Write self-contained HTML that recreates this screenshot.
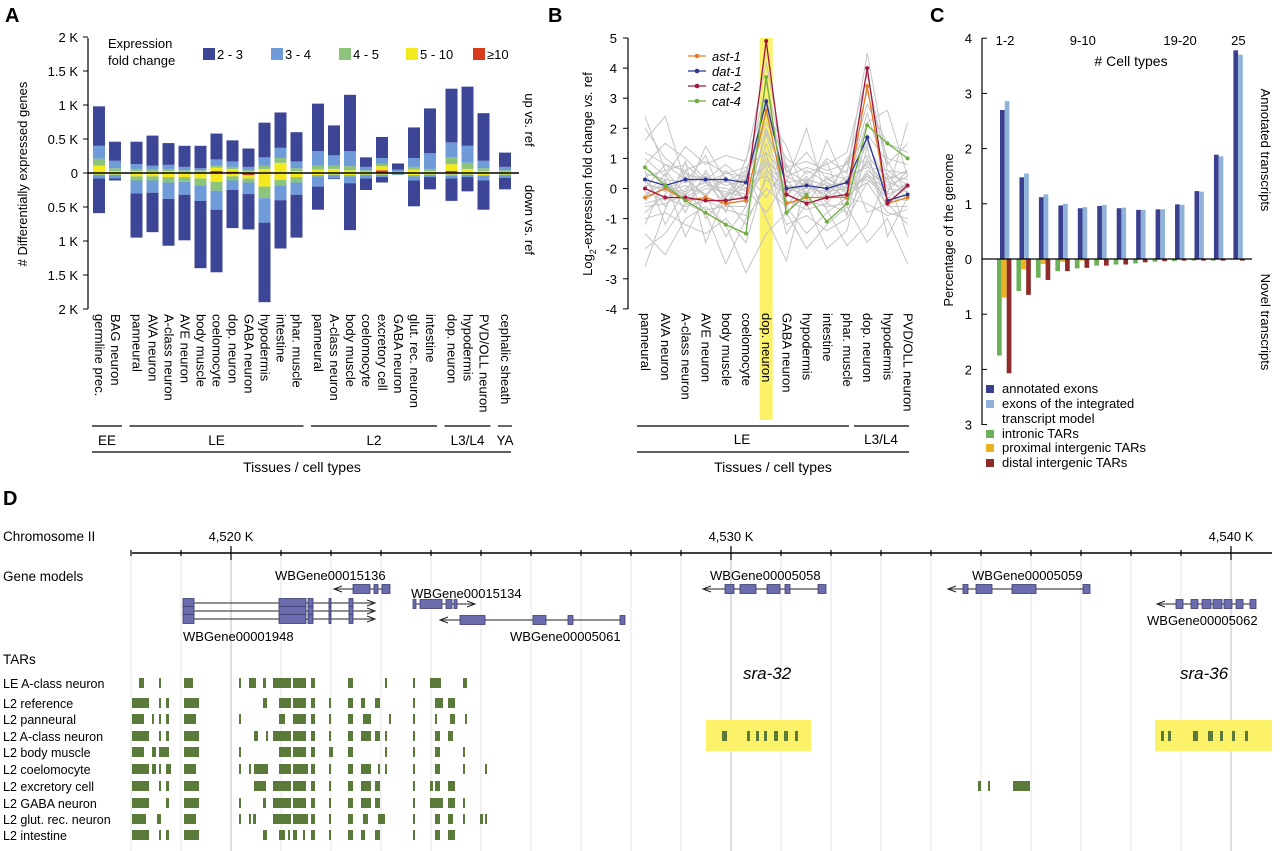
<!DOCTYPE html>
<html><head><meta charset="utf-8"><style>
html,body{margin:0;padding:0;background:#fff}
svg{display:block;font-family:"Liberation Sans",Arial,sans-serif}
</style></head><body>
<svg id="fig" width="1280" height="851" viewBox="0 0 1280 851" xmlns="http://www.w3.org/2000/svg">
<g id="pA"></g>
<g id="pB"></g>
<g id="pC"></g>
<g id="pD"></g>
</svg>
<script>
// ---------- Panel A data ----------
const aCats = ["germline prec.","BAG neuron","panneural","AVA neuron","A-class neuron","AVE neuron","body muscle","coelomocyte","dop. neuron","GABA neuron","hypodermis","intestine","phar. muscle","panneural","A-class neuron","body muscle","coelomocyte","excretory cell","GABA neuron","glut. rec. neuron","intestine","dop. neuron","hypodermis","PVD/OLL neuron","cephalic sheath"];
const aGroup = [0,0,1,1,1,1,1,1,1,1,1,1,1,2,2,2,2,2,2,2,2,3,3,3,4];
const aGroupNames = ["EE","LE","L2","L3/L4","YA"];
const upTotal = [0.98,0.46,0.46,0.55,0.44,0.40,0.40,0.58,0.48,0.36,0.74,0.89,0.60,1.02,0.70,1.15,0.23,0.53,0.14,0.67,0.95,1.24,1.27,0.88,0.30];
const upLB = [.19,.11,.07,.06,.06,.05,.03,.09,.08,.05,.12,.15,.10,.21,.15,.22,.05,.08,.03,.13,.23,.22,.25,.11,.05];
const upG  = [.10,.04,.03,.03,.03,.02,.02,.03,.03,.02,.05,.07,.04,.06,.05,.06,.02,.04,.01,.04,.03,.10,.09,.04,.02];
const upY  = [.11,.03,.03,.02,.03,.02,.02,.05,.04,.02,.05,.15,.03,.05,.06,.04,.02,.06,.01,.05,.03,.10,.06,.03,.02];
const upR  = [0,0,0,0,0,0,0,.03,.02,0,.01,0,0,0,0,0,0,.04,0,0,0,.03,0,0,0];
const downTotal = [0.59,0.11,0.95,0.87,1.07,0.99,1.40,1.46,0.81,0.83,1.90,1.11,0.95,0.54,0.09,0.84,0.25,0.14,0.03,0.49,0.24,0.41,0.27,0.54,0.24];
const downLB = [.05,.05,.19,.18,.24,.19,.23,.28,.14,.17,.36,.22,.18,.15,.05,.10,.05,.03,.01,.06,.03,.04,.03,.07,.04];
const downG  = [.01,.01,.06,.06,.08,.07,.10,.13,.06,.06,.17,.08,.08,.02,.01,.02,.01,.01,.01,.02,.01,.02,.01,.01,.01];
const downY  = [.02,.02,.05,.05,.06,.06,.08,.13,.05,.05,.20,.10,.06,.03,.02,.03,.02,.02,.01,.03,.02,.02,.02,.03,.02];
const downR  = [0,0,0,0,0,0,0,0,0,.03,0,0,0,0,0,0,0,0,0,0,0,0,0,0,0];
const aTicks = ["2 K","1.5 K","1 K","0.5 K","0","0.5 K","1 K","1.5 K","2 K"];
const aTickVals = [2,1.5,1,0.5,0,-0.5,-1,-1.5,-2];
const foldLabels = ["2 - 3","3 - 4","4 - 5","5 - 10","≥10"];

// ---------- Panel B data ----------
const bCats = ["panneural","AVA neuron","A-class neuron","AVE neuron","body muscle","coelomocyte","dop. neuron","GABA neuron","hypodermis","intestine","phar. muscle","dop. neuron","hypodermis","PVD/OLL neuron"];
const bTicks = [5,4,3,2,1,0,-1,-2,-3,-4];
const ast1 = [-0.3,0.0,-0.4,-0.3,-0.5,-0.4,2.6,-0.5,-0.3,-0.3,-0.3,3.4,-0.5,-0.3];
const dat1 = [0.3,0.1,0.3,0.3,0.3,0.2,2.9,0.0,0.1,0.0,0.2,1.7,-0.4,-0.2];
const cat2 = [0.0,-0.3,-0.3,-0.4,-0.4,-0.3,4.9,-0.2,-0.5,-0.3,-0.2,4.0,-0.5,0.1];
const cat4 = [0.7,0.1,-0.4,-0.8,-1.2,-1.5,3.7,-0.8,-0.2,-1.1,-0.5,2.1,1.5,1.0];
const grayBg = [
[0.5,0.3,0.2,0.4,0.1,0.3,2.0,0.2,0.3,0.1,0.2,2.5,0.4,0.3],
[-0.5,-0.3,-0.6,-0.4,-0.7,-0.9,1.5,-0.5,-0.4,-0.6,-0.5,1.0,-0.3,-0.4],
[1.2,0.8,0.6,0.9,0.5,0.4,3.5,0.7,0.9,0.6,0.8,3.2,1.0,0.8],
[-1.0,-0.8,-1.2,-1.5,-1.0,-1.8,0.5,-1.2,-0.9,-1.4,-1.0,0.2,-0.8,-1.0],
[0.1,0.0,-0.1,0.2,-0.2,0.0,1.0,0.1,0.0,-0.1,0.0,1.5,0.2,0.0],
[2.0,1.0,0.5,0.3,0.8,0.2,3.0,0.5,1.2,0.3,0.6,2.8,1.5,1.2],
[-2.0,-1.5,-0.5,-0.8,-2.5,-1.0,0.0,-0.6,-1.5,-0.8,-0.3,-0.5,-0.9,-0.7],
[0.8,1.5,1.0,0.3,0.2,0.6,2.2,1.0,0.5,0.8,1.2,3.8,0.6,0.5],
[-0.3,0.5,-0.8,0.6,-0.4,-1.2,0.3,-0.2,0.4,-0.5,0.3,0.8,-0.6,0.2],
[0.3,-0.6,0.4,-0.3,0.6,0.0,-0.8,0.3,-0.5,0.4,-0.2,0.2,0.5,-0.4],
[-1.5,-2.2,-1.0,-0.6,-1.2,-2.8,-1.5,-0.8,-2.0,-1.2,-0.6,-1.8,-1.0,-2.5],
[1.0,0.4,1.4,0.8,1.1,0.9,4.2,0.6,0.2,1.0,0.5,4.5,0.8,1.5],
[0.0,0.8,0.3,-0.2,0.4,-0.5,1.8,-0.3,0.6,0.2,-0.4,0.6,0.1,0.4],
[-0.8,-0.2,0.6,-1.0,-0.3,0.5,-0.3,0.8,-0.6,-0.2,0.9,-0.8,-0.5,-1.2],
[0.6,-1.2,0.0,0.5,-0.8,1.0,2.8,-0.9,0.2,0.9,-0.9,1.8,0.9,-0.2],
[-0.2,0.2,-0.4,0.0,-0.1,-0.3,0.6,0.0,-0.2,0.2,-0.1,0.4,-0.2,0.1],
[0.4,0.6,0.8,0.2,0.5,0.7,1.2,0.4,0.7,0.5,0.3,1.1,0.3,0.6],
[-0.6,-0.5,-0.2,-0.7,-0.6,-0.6,0.9,-0.4,-0.7,-0.5,-0.8,0.5,-0.6,-0.6],
[1.6,2.4,0.2,1.1,-0.6,0.2,2.5,1.4,-0.3,1.6,0.1,2.2,2.6,0.4],
[-1.2,0.3,-1.6,-0.2,-1.6,-0.6,1.2,-1.5,-0.5,-2.0,-1.4,1.4,-1.6,-0.3],
[0.2,-0.1,0.1,-0.2,0.3,-0.1,0.8,0.1,-0.1,0.3,0.0,0.9,0.0,-0.1],
[-0.4,0.1,-0.2,0.3,-0.3,0.2,0.4,-0.1,0.2,-0.3,0.1,0.3,-0.3,0.2],
[0.7,0.2,-0.3,0.1,0.0,-0.2,0.9,0.4,0.1,-0.2,0.4,0.7,0.6,0.1],
[-0.1,-0.4,0.5,0.2,-0.5,0.4,0.7,-0.6,0.3,0.1,-0.3,0.5,-0.1,0.6],
[2.4,0.6,-0.2,1.4,0.3,-0.4,1.9,0.2,2.0,-0.4,1.0,1.6,-0.2,2.2],
[-2.6,-0.7,0.9,-1.8,-0.2,0.6,-1.0,-2.4,0.3,-0.7,-1.9,-1.2,0.4,-1.6]
];

// ---------- Panel C data ----------
const cCats = ["1-2","3-4","5-6","7-8","9-10","11-12","13-14","15-16","17-18","19-20","21-22","23-24","25"];
const annotExons = [2.70,1.48,1.12,0.97,0.92,0.96,0.92,0.89,0.90,0.99,1.23,1.89,3.78];
const modelExons = [2.86,1.55,1.17,1.00,0.94,0.98,0.93,0.89,0.90,0.98,1.22,1.86,3.70];
const intronicTARs = [1.75,0.58,0.34,0.22,0.17,0.12,0.10,0.08,0.05,0.04,0.03,0.03,0.01];
const proximalTARs = [0.70,0.19,0.09,0.05,0.03,0.02,0.01,0.01,0,0,0,0,0];
const distalTARs = [2.07,0.65,0.38,0.22,0.16,0.12,0.10,0.06,0.04,0.03,0.03,0.03,0.03];
const cTicksUp = [4,3,2,1,0];
const cTicksDown = [1,2,3];

// ---------- Panel D data (positions in kb, offset from 4,500 K) ----------
const tarTracks = ["LE A-class neuron","L2 reference","L2 panneural","L2 A-class neuron","L2 body muscle","L2 coelomocyte","L2 excretory cell","L2 GABA neuron","L2 glut. rec. neuron","L2 intestine"];
const tarLE = [[18.16,18.26],[18.56,18.60],[19.06,19.24],[20.16,20.20],[20.36,20.50],[20.64,20.70],[20.84,21.20],[21.24,21.50],[21.60,21.68],[22.34,22.44],[23.08,23.12],[23.64,23.68],[23.98,24.20],[24.64,24.72]];
const tarRef = [[18.02,18.36],[18.56,18.60],[18.70,18.76],[19.06,19.36],[20.64,20.72],[20.96,21.20],[21.24,21.50],[21.60,21.68],[21.96,22.00],[22.34,22.44],[22.60,22.68],[22.88,22.98],[23.64,23.68],[24.08,24.24],[24.34,24.48]];
const tarPan = [[18.02,18.26],[18.42,18.46],[18.56,18.60],[18.70,18.76],[19.06,19.30],[20.16,20.20],[20.96,21.08],[21.24,21.50],[21.60,21.68],[21.96,22.00],[22.34,22.44],[22.64,22.80],[23.16,23.20],[23.64,23.68],[24.08,24.12],[24.38,24.48],[24.68,24.72]];
const tarAcl = [[18.02,18.36],[18.56,18.60],[18.70,18.76],[19.06,19.36],[20.46,20.54],[20.70,20.74],[20.84,21.20],[21.24,21.50],[21.60,21.68],[21.96,22.00],[22.34,22.44],[22.60,22.80],[22.88,22.98],[23.08,23.12],[23.64,23.68],[24.08,24.18],[24.34,24.44],
 [29.82,29.92],[30.32,30.38],[30.50,30.56],[30.66,30.72],[30.86,30.94],[31.06,31.14],[31.28,31.34],
 [38.60,38.66],[38.74,38.80],[39.24,39.34],[39.54,39.64],[39.78,39.84],[40.02,40.08],[40.28,40.34]];
const tarBody = [[18.02,18.26],[18.42,18.50],[18.56,18.76],[19.06,19.36],[20.16,20.20],[20.96,21.20],[21.24,21.50],[21.60,21.68],[21.96,22.04],[22.34,22.44],[23.08,23.12],[23.64,23.68],[24.08,24.18],[24.64,24.68]];
const tarCoel = [[18.02,18.36],[18.42,18.50],[18.56,18.60],[18.70,18.80],[19.06,19.30],[20.16,20.20],[20.36,20.40],[20.46,20.74],[20.96,21.20],[21.24,21.54],[21.60,21.68],[21.96,22.00],[22.34,22.44],[22.60,22.80],[22.94,22.98],[23.08,23.12],[23.64,23.68],[24.08,24.18],[24.64,24.68],[25.08,25.12]];
const tarExc = [[18.02,18.36],[18.56,18.60],[18.70,18.76],[19.06,19.36],[20.46,20.70],[20.84,21.20],[21.24,21.50],[21.60,21.68],[21.96,22.00],[22.34,22.44],[22.60,22.80],[22.88,22.98],[23.64,23.68],[23.98,24.04],[24.08,24.18],[24.34,24.48],[34.94,35.00],[35.14,35.18],[35.64,35.98]];
const tarGaba = [[18.02,18.36],[18.70,18.76],[19.06,19.36],[20.16,20.20],[20.64,20.70],[20.84,21.20],[21.24,21.50],[21.60,21.68],[21.96,22.00],[22.34,22.44],[22.60,22.80],[22.88,22.98],[23.64,23.68],[23.98,24.24],[24.34,24.48],[24.64,24.68]];
const tarGlut = [[18.02,18.30],[18.52,18.60],[19.06,19.30],[20.16,20.20],[20.36,20.40],[20.44,20.50],[20.84,21.20],[21.24,21.54],[21.60,21.68],[21.96,22.00],[22.34,22.44],[22.64,22.74],[22.94,23.08],[23.64,23.68],[24.08,24.18],[24.34,24.44],[24.64,24.68],[24.98,25.04],[25.08,25.12]];
const tarInt = [[18.02,18.36],[18.56,18.60],[18.70,18.76],[19.06,19.36],[20.64,20.72],[20.96,21.08],[21.14,21.18],[21.24,21.32],[21.44,21.48],[21.60,21.68],[21.96,22.00],[22.34,22.44],[22.60,22.68],[22.88,22.98],[23.64,23.68],[24.08,24.18],[24.34,24.48]];
const tarRows = [tarLE,tarRef,tarPan,tarAcl,tarBody,tarCoel,tarExc,tarGaba,tarGlut,tarInt];

const NS="http://www.w3.org/2000/svg";
function mk(parent,tag,attrs,text){const e=document.createElementNS(NS,tag);for(const k in attrs)e.setAttribute(k,attrs[k]);if(text!==undefined)e.textContent=text;parent.appendChild(e);return e;}
const pA=document.getElementById('pA'),pB=document.getElementById('pB'),pC=document.getElementById('pC'),pD=document.getElementById('pD');

// ================= PANEL A =================
(function(){
  const zero=173, k=68;
  const yUp=v=>zero-v*k, yDn=v=>zero+v*k;
  const xBar=i=>93+i*16+aGroup[i]*5.5;
  let t=mk(pA,'text',{x:5,y:22,'font-size':20,'font-weight':'bold'},'A');
  
  
  const cols=["#3c4596","#6f9bd8","#8dc47c","#f2ea1c","#d93a1e"];
  t=mk(pA,'text',{x:108,y:48,'font-size':13},'Expression');
  
  
  mk(pA,'text',{x:108,y:65,'font-size':13},'fold change');
  const lx=[203,271,339,406,473];
  foldLabels.forEach((l,j)=>{
    const r=mk(pA,'rect',{x:lx[j],y:48,width:12,height:12,fill:cols[j]});
    
    
    const tt=mk(pA,'text',{x:lx[j]+14,y:59,'font-size':13},l);
    
    
  });
  mk(pA,'line',{x1:88,y1:38,x2:88,y2:309,stroke:'#000','stroke-width':1.2});
  aTickVals.forEach((v,j)=>{
    const y=zero-v*k;
    mk(pA,'line',{x1:83,y1:y,x2:88,y2:y,stroke:'#000'});
    const tt=mk(pA,'text',{x:78,y:y+5,'font-size':13,'text-anchor':'end'},aTicks[j]);
    
    
  });
  t=mk(pA,'text',{transform:'translate(27,174) rotate(-90)','font-size':13,'text-anchor':'middle'},'# Differentially expressed genes');
  
  
  t=mk(pA,'text',{transform:'translate(525,120) rotate(90)','font-size':13,'text-anchor':'middle'},'up vs. ref');
  
  
  t=mk(pA,'text',{transform:'translate(525,220) rotate(90)','font-size':13,'text-anchor':'middle'},'down vs. ref');
  
  
  aCats.forEach((c,i)=>{
    const x=xBar(i), w=12;
    const upSegs=[upR[i],upY[i],upG[i],upLB[i]];
    const upCols=[cols[4],cols[3],cols[2],cols[1]];
    const dark=upTotal[i]-upSegs.reduce((a,b)=>a+b,0);
    let acc=0;
    upSegs.concat([dark]).forEach((v,j)=>{
      if(v<=0)return;
      const r=mk(pA,'rect',{x:x,y:yUp(acc+v),width:w,height:v*k,fill:j<4?upCols[j]:cols[0]});
      
      
      acc+=v;
    });
    const dSegs=[downR[i],downY[i],downG[i],downLB[i]];
    const ddark=downTotal[i]-dSegs.reduce((a,b)=>a+b,0);
    acc=0;
    dSegs.concat([ddark]).forEach((v,j)=>{
      if(v<=0)return;
      const r=mk(pA,'rect',{x:x,y:yDn(acc),width:w,height:v*k,fill:j<4?upCols[j]:cols[0]});
      
      
      acc+=v;
    });
    const tt=mk(pA,'text',{transform:`translate(${x+2},314) rotate(90)`,'font-size':13},c);
    
    
  });
  mk(pA,'line',{x1:88,y1:zero,x2:519,y2:zero,stroke:'#000','stroke-width':1.5});
  for(let g=0;g<5;g++){
    const idx=aGroup.map((v,i)=>v===g?i:-1).filter(i=>i>=0);
    const x1=xBar(idx[0]),x2=xBar(idx[idx.length-1])+12;
    mk(pA,'line',{x1:x1-1,y1:426,x2:x2+1,y2:426,stroke:'#000','stroke-width':1.2});
    const tt=mk(pA,'text',{x:(x1+x2)/2,y:445,'font-size':13.5,'text-anchor':'middle'},aGroupNames[g]);
    
    
  }
  mk(pA,'line',{x1:92,y1:452,x2:511,y2:452,stroke:'#000','stroke-width':1.2});
  t=mk(pA,'text',{x:302,y:472,'font-size':14,'text-anchor':'middle'},'Tissues / cell types');
  
  
})();

// ================= PANEL B =================
(function(){
  const y=v=>188.5-v*30.1, x=i=>645+i*20.2;
  let t=mk(pB,'text',{x:548,y:22,'font-size':20,'font-weight':'bold'},'B');
  
  
  const hl=mk(pB,'rect',{x:x(6)-6.5,y:38,width:13,height:382,fill:'#fbf26a'});
  
  
  mk(pB,'line',{x1:628,y1:38,x2:628,y2:309,stroke:'#000','stroke-width':1.2});
  bTicks.forEach(v=>{
    mk(pB,'line',{x1:623,y1:y(v),x2:628,y2:y(v),stroke:'#000'});
    const tt=mk(pB,'text',{x:617,y:y(v)+5,'font-size':13,'text-anchor':'end'},String(v));
    
    
  });
  t=mk(pB,'text',{transform:'translate(592,174) rotate(-90)','font-size':13,'text-anchor':'middle'});
  
  
  t.innerHTML='Log<tspan font-size="9" dy="4">2</tspan><tspan dy="-4">-expression fold change </tspan><tspan font-style="italic">vs.</tspan> ref';
  grayBg.forEach(s=>{
    const p=mk(pB,'polyline',{points:s.map((v,i)=>x(i)+','+y(v)).join(' '),fill:'none',stroke:'#c4c4c4','stroke-width':1});
    
    
  });
  const series=[[ast1,'#e0802a','ast-1'],[dat1,'#2c3590','dat-1'],[cat2,'#a3173f','cat-2'],[cat4,'#6fae3e','cat-4']];
  series.forEach(([d,c,n])=>{
    const p=mk(pB,'polyline',{points:d.map((v,i)=>x(i)+','+y(v)).join(' '),fill:'none',stroke:c,'stroke-width':1.3});
    
    
    d.forEach((v,i)=>{
      const m=mk(pB,'circle',{cx:x(i),cy:y(v),r:2,fill:c});
      
      
    });
  });
  series.forEach(([d,c,n],j)=>{
    const ly=56+j*15;
    mk(pB,'line',{x1:688,y1:ly,x2:706,y2:ly,stroke:c,'stroke-width':1.3});
    mk(pB,'circle',{cx:697,cy:ly,r:2.3,fill:c});
    const tt=mk(pB,'text',{x:712,y:ly+5,'font-size':13,'font-style':'italic'},n);
    
    
  });
  bCats.forEach((c,i)=>{
    const tt=mk(pB,'text',{transform:`translate(${x(i)-4},313) rotate(90)`,'font-size':13},c);
    
    
  });
  mk(pB,'line',{x1:637,y1:426,x2:849,y2:426,stroke:'#000','stroke-width':1.2});
  mk(pB,'line',{x1:854,y1:426,x2:909,y2:426,stroke:'#000','stroke-width':1.2});
  t=mk(pB,'text',{x:742,y:444,'font-size':13.5,'text-anchor':'middle'},'LE');
  
  
  t=mk(pB,'text',{x:881,y:444,'font-size':13.5,'text-anchor':'middle'},'L3/L4');
  
  
  mk(pB,'line',{x1:637,y1:452,x2:909,y2:452,stroke:'#000','stroke-width':1.2});
  t=mk(pB,'text',{x:773,y:472,'font-size':14,'text-anchor':'middle'},'Tissues / cell types');
  
  
})();

// ================= PANEL C =================
(function(){
  const k=55.2,zero=259;
  const yU=v=>zero-v*k;
  const xg=i=>1000+i*19.45;
  let t=mk(pC,'text',{x:930,y:22,'font-size':20,'font-weight':'bold'},'C');
  
  
  mk(pC,'line',{x1:982,y1:38,x2:982,y2:425,stroke:'#000','stroke-width':1.2});
  cTicksUp.forEach(v=>{
    mk(pC,'line',{x1:982,y1:yU(v),x2:987,y2:yU(v),stroke:'#000'});
    const tt=mk(pC,'text',{x:972,y:yU(v)+5,'font-size':13,'text-anchor':'end'},String(v));
    
    
  });
  cTicksDown.forEach(v=>{
    mk(pC,'line',{x1:982,y1:zero+v*k,x2:987,y2:zero+v*k,stroke:'#000'});
    const tt=mk(pC,'text',{x:972,y:zero+v*k+5,'font-size':13,'text-anchor':'end'},String(v));
    
    
  });
  t=mk(pC,'text',{transform:'translate(953,230) rotate(-90)','font-size':13,'text-anchor':'middle'},'Percentage of the genome');
  
  
  cCats.forEach((c,i)=>{
    const x=xg(i);
    let r=mk(pC,'rect',{x:x,y:yU(annotExons[i]),width:4.7,height:annotExons[i]*k,fill:'#3b3f8f'});
    
    
    r=mk(pC,'rect',{x:x+4.7,y:yU(modelExons[i]),width:4.7,height:modelExons[i]*k,fill:'#8fb2db'});
    
    
    r=mk(pC,'rect',{x:x-3,y:zero,width:4.7,height:intronicTARs[i]*k,fill:'#6cb15a'});
    
    
    r=mk(pC,'rect',{x:x+1.7,y:zero,width:5,height:proximalTARs[i]*k,fill:'#e8b424'});
    
    
    r=mk(pC,'rect',{x:x+6.7,y:zero,width:4.7,height:distalTARs[i]*k,fill:'#8f2a2a'});
    
    
  });
  mk(pC,'line',{x1:982,y1:zero,x2:1252,y2:zero,stroke:'#000','stroke-width':1.2});
  [[0,'1-2'],[4,'9-10'],[9,'19-20'],[12,'25']].forEach(([i,l])=>{
    const tt=mk(pC,'text',{x:xg(i)+5,y:45,'font-size':13,'text-anchor':'middle'},l);
    
    
  });
  t=mk(pC,'text',{x:1131,y:66,'font-size':14,'text-anchor':'middle'},'# Cell types');
  
  
  t=mk(pC,'text',{transform:'translate(1261,150) rotate(90)','font-size':13,'text-anchor':'middle'},'Annotated transcripts');
  
  
  t=mk(pC,'text',{transform:'translate(1261,322) rotate(90)','font-size':13,'text-anchor':'middle'},'Novel transcripts');
  
  
  const leg=[['#3b3f8f','annotated exons',393],['#8fb2db','exons of the integrated',408],[null,'transcript model',423],['#6cb15a','intronic TARs',438],['#e8b424','proximal intergenic TARs',452],['#8f2a2a','distal intergenic TARs',467]];
  leg.forEach(([c,l,y])=>{
    if(c){const r=mk(pC,'rect',{x:986,y:y-8,width:8,height:8,fill:c});
      
      }
    const tt=mk(pC,'text',{x:1002,y:y,'font-size':13},l);
    
    
  });
})();

// ================= PANEL D =================
(function(){
  const xk=kb=>231+(kb-20)*50;
  let t=mk(pD,'text',{x:3,y:505,'font-size':20,'font-weight':'bold'},'D');
  
  
  t=mk(pD,'text',{x:3,y:541,'font-size':13.5},'Chromosome II');
  
  
  t=mk(pD,'text',{x:3,y:581,'font-size':13.5},'Gene models');
  
  
  t=mk(pD,'text',{x:3,y:664,'font-size':13.5},'TARs');
  
  
  for(let kb=18;kb<=40.9;kb+=1){
    const major=(Math.round(kb)%10===0);
    mk(pD,'line',{x1:xk(kb),y1:555,x2:xk(kb),y2:851,stroke:major?'#bdbdbd':'#e4e4e4','stroke-width':1});
  }
  let h=mk(pD,'rect',{x:706,y:720,width:105,height:31,fill:'#fbf26a'});
  
  
  h=mk(pD,'rect',{x:1155,y:720,width:117,height:31,fill:'#fbf26a'});
  
  
  mk(pD,'line',{x1:132,y1:553,x2:1272,y2:553,stroke:'#000','stroke-width':1.4});
  for(let kb=18;kb<=40.9;kb+=1){
    const major=(Math.round(kb)%10===0);
    mk(pD,'line',{x1:xk(kb),y1:major?546:550,x2:xk(kb),y2:major?560:556,stroke:'#000','stroke-width':1.2});
  }
  [[20,'4,520 K'],[30,'4,530 K'],[40,'4,540 K']].forEach(([kb,l])=>{
    const tt=mk(pD,'text',{x:xk(kb),y:541,'font-size':13,'text-anchor':'middle'},l);
    
    
  });
  const gc='#6b6cad', gs='#3b3c6e';
  function exon(x1,x2,y,name){const r=mk(pD,'rect',{x:x1,y:y-4.5,width:x2-x1,height:9,fill:gc,stroke:gs,'stroke-width':0.8});
    
    }
  function line(x1,x2,y){mk(pD,'line',{x1:x1,y1:y,x2:x2,y2:y,stroke:'#222','stroke-width':1});}
  function arrowL(x,y){mk(pD,'path',{d:`M${x+8},${y-3} L${x},${y} L${x+8},${y+3}`,fill:'none',stroke:'#222'});}
  function arrowR(x,y){mk(pD,'path',{d:`M${x-8},${y-3} L${x},${y} L${x-8},${y+3}`,fill:'none',stroke:'#222'});}
  function label(x,y,s,name,it,size){const tt=mk(pD,'text',{x:x,y:y,'font-size':size||13,'font-style':it?'italic':'normal'},s);
    
    }
  [603,611,619].forEach(y=>{
    line(194,279,y); line(306,375,y); arrowR(375,y);
    exon(183,194,y,'exon'); exon(279,306,y,'exon'); exon(308,313,y,'exon'); exon(329,331,y,'exon'); exon(349,353,y,'exon');
  });
  label(183,641,'WBGene00001948','gene-label');
  line(334,390,589); arrowL(334,589); exon(353,370,589,'exon'); exon(374,378,589,'exon'); exon(382,390,589,'exon');
  label(275,580,'WBGene00015136','gene-label');
  line(413,475,604); arrowR(475,604); exon(413,416,604,'exon'); exon(420,442,604,'exon'); exon(446,452,604,'exon'); exon(454,457,604,'exon');
  label(411,598,'WBGene00015134','gene-label');
  line(440,625,620); arrowL(440,620); exon(460,485,620,'exon'); exon(533,546,620,'exon'); exon(568,573,620,'exon'); exon(620,625,620,'exon');
  label(510,641,'WBGene00005061','gene-label');
  line(703,826,589); arrowL(703,589); exon(725,734,589,'exon'); exon(740,756,589,'exon'); exon(767,780,589,'exon'); exon(785,790,589,'exon'); exon(818,826,589,'exon');
  label(710,580,'WBGene00005058','gene-label');
  line(948,1090,589); arrowL(948,589); exon(963,968,589,'exon'); exon(976,992,589,'exon'); exon(1012,1036,589,'exon'); exon(1083,1090,589,'exon');
  label(972,580,'WBGene00005059','gene-label');
  line(1157,1256,604); arrowL(1157,604); [[1176,1183],[1191,1198],[1202,1211],[1213,1222],[1224,1232],[1236,1243],[1250,1256]].forEach(e=>exon(e[0],e[1],604,'exon'));
  label(1147,625,'WBGene00005062','gene-label');
  label(743,679,'sra-32','gene-name-sra-32',true,17);
  label(1180,679,'sra-36','gene-name-sra-36',true,17);
  const rowY=[683,703,719,736,752,769,786,803,819,835];
  tarTracks.forEach((n,r)=>{
    const tt=mk(pD,'text',{x:3,y:rowY[r]+5,'font-size':12.5},n);
    
    
    tarRows[r].forEach(([s,e])=>{
      const b=mk(pD,'rect',{x:xk(s),y:rowY[r]-5,width:Math.max(2,xk(e)-xk(s)),height:10,fill:'#5a7a3a'});
      
      
    });
  });
})();
</script>
</body></html>
